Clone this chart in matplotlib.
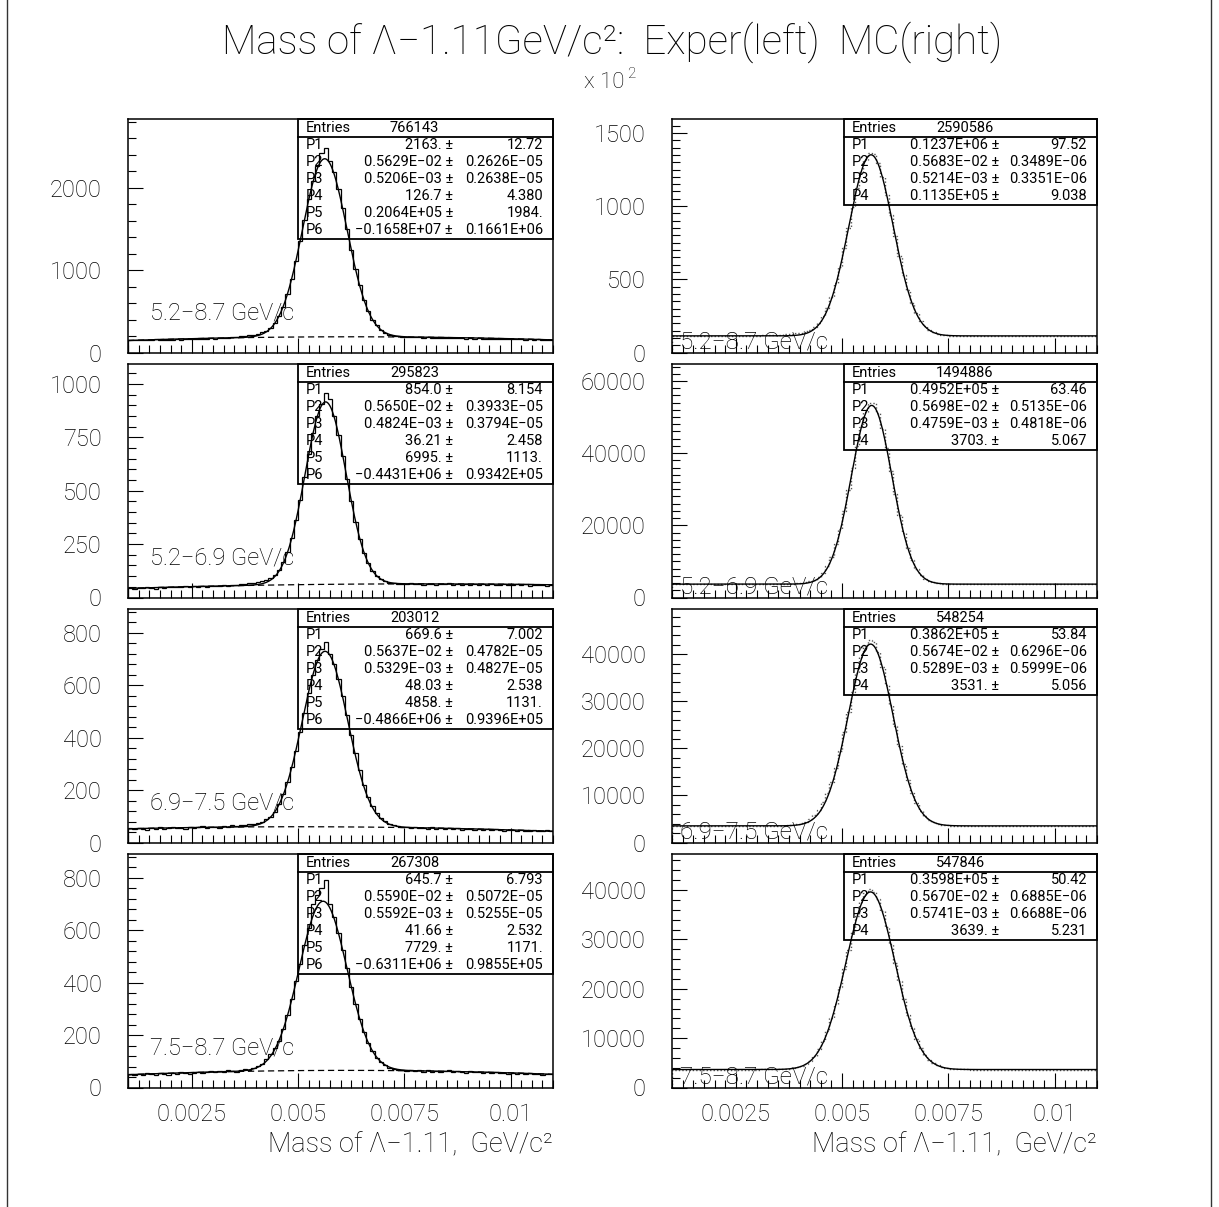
import matplotlib
matplotlib.use("Agg")
import matplotlib.pyplot as plt
from matplotlib.lines import Line2D
from matplotlib.patches import Rectangle
from matplotlib.ticker import MultipleLocator
import numpy as np

plt.rcParams['font.family'] = ['Roboto', 'DejaVu Sans']
plt.rcParams['font.weight'] = 'light'

# ---- data ---------------------------------------------------------------
x_lo, x_hi = 0.001, 0.011
n_bins = 100

ranges = ["5.2−8.7 GeV/c", "5.2−6.9 GeV/c", "6.9−7.5 GeV/c", "7.5−8.7 GeV/c"]
x_ticks = [0.0025, 0.005, 0.0075, 0.01]
x_tick_labels = ["0.0025", "0.005", "0.0075", "0.01"]

# experiment (left column)
exp_entries = ["766143", "295823", "203012", "267308"]
exp_values = [
    ["2163. ±", "0.5629E−02 ±", "0.5206E−03 ±", "126.7 ±", "0.2064E+05 ±", "−0.1658E+07 ±"],
    ["854.0 ±", "0.5650E−02 ±", "0.4824E−03 ±", "36.21 ±", "6995. ±", "−0.4431E+06 ±"],
    ["669.6 ±", "0.5637E−02 ±", "0.5329E−03 ±", "48.03 ±", "4858. ±", "−0.4866E+06 ±"],
    ["645.7 ±", "0.5590E−02 ±", "0.5592E−03 ±", "41.66 ±", "7729. ±", "−0.6311E+06 ±"],
]
exp_errors = [
    ["12.72", "0.2626E−05", "0.2638E−05", "4.380", "1984.", "0.1661E+06"],
    ["8.154", "0.3933E−05", "0.3794E−05", "2.458", "1113.", "0.9342E+05"],
    ["7.002", "0.4782E−05", "0.4827E−05", "2.538", "1131.", "0.9396E+05"],
    ["6.793", "0.5072E−05", "0.5255E−05", "2.532", "1171.", "0.9855E+05"],
]
exp_ymax = [2836, 1093, 891, 891]
exp_major = [1000, 250, 200, 200]
exp_minor = [200, 50, 40, 40]

exp_hist_1 = [150, 146, 153, 148, 156, 151, 158, 152, 149, 157,
              155, 161, 157, 163, 159, 166, 162, 168, 164, 171,
              169, 176, 172, 180, 185, 191, 198, 203, 210, 218,
              228, 245, 262, 300, 356, 440, 556, 708, 892, 1108,
              1350, 1612, 1860, 2080, 2270, 2420, 2480, 2330, 2190, 1990,
              1760, 1500, 1250, 1020, 815, 640, 505, 400, 330, 276,
              240, 216, 204, 196, 190, 185, 188, 183, 186, 180,
              184, 178, 182, 176, 180, 174, 178, 172, 176, 170,
              174, 168, 172, 166, 170, 164, 168, 162, 166, 160,
              164, 158, 162, 156, 160, 154, 158, 152, 156, 150]
exp_hist_2 = [44, 41, 46, 43, 47, 45, 42, 48, 46, 50,
              47, 51, 49, 52, 48, 53, 51, 55, 50, 54,
              56, 53, 57, 55, 59, 58, 62, 64, 66, 70,
              72, 78, 84, 92, 106, 130, 168, 215, 280, 362,
              458, 565, 672, 770, 850, 905, 955, 930, 850, 760,
              662, 555, 450, 355, 272, 208, 160, 124, 100, 85,
              76, 70, 66, 63, 65, 62, 66, 61, 64, 60,
              65, 62, 59, 64, 61, 66, 60, 63, 58, 62,
              60, 64, 59, 62, 57, 63, 60, 58, 62, 59,
              57, 61, 58, 62, 56, 60, 57, 59, 55, 58]
exp_hist_3 = [55, 50, 57, 52, 48, 56, 53, 58, 51, 55,
              59, 54, 57, 52, 60, 55, 58, 62, 56, 59,
              61, 57, 63, 59, 65, 62, 68, 66, 72, 70,
              76, 80, 88, 98, 118, 148, 185, 232, 290, 350,
              420, 495, 570, 640, 695, 740, 765, 720, 680, 625,
              560, 488, 412, 340, 275, 220, 175, 140, 114, 95,
              82, 72, 66, 62, 58, 61, 55, 59, 54, 57,
              53, 58, 52, 56, 51, 55, 50, 54, 49, 53,
              50, 47, 52, 48, 51, 46, 50, 47, 45, 49,
              46, 44, 48, 45, 43, 47, 44, 42, 46, 43]
exp_hist_4 = [50, 46, 53, 48, 55, 51, 47, 54, 52, 49,
              56, 52, 58, 54, 50, 57, 60, 55, 59, 62,
              58, 64, 61, 66, 63, 60, 67, 70, 68, 75,
              82, 90, 108, 128, 150, 178, 225, 278, 338, 405,
              472, 545, 610, 700, 735, 760, 790, 700, 650, 590,
              525, 455, 385, 320, 262, 212, 170, 138, 114, 96,
              85, 76, 70, 66, 68, 63, 67, 62, 65, 60,
              66, 61, 64, 59, 63, 67, 58, 62, 60, 57,
              63, 58, 61, 56, 60, 55, 59, 54, 57, 53,
              56, 52, 55, 51, 54, 50, 53, 49, 52, 50]
exp_hists = [exp_hist_1, exp_hist_2, exp_hist_3, exp_hist_4]

# Monte Carlo (right column)
mc_entries = ["2590586", "1494886", "548254", "547846"]
mc_values = [
    ["0.1237E+06 ±", "0.5683E−02 ±", "0.5214E−03 ±", "0.1135E+05 ±"],
    ["0.4952E+05 ±", "0.5698E−02 ±", "0.4759E−03 ±", "3703. ±"],
    ["0.3862E+05 ±", "0.5674E−02 ±", "0.5289E−03 ±", "3531. ±"],
    ["0.3598E+05 ±", "0.5670E−02 ±", "0.5741E−03 ±", "3639. ±"],
]
mc_errors = [
    ["97.52", "0.3489E−06", "0.3351E−06", "9.038"],
    ["63.46", "0.5135E−06", "0.4818E−06", "5.067"],
    ["53.84", "0.6296E−06", "0.5999E−06", "5.056"],
    ["50.42", "0.6885E−06", "0.6688E−06", "5.231"],
]
mc_scale = [100, 1, 1, 1]          # first panel is drawn in units of 10^2
mc_ymax = [1595, 64700, 49600, 47300]
mc_major = [500, 20000, 10000, 10000]
mc_minor = [50, 2000, 2000, 2000]

mc_hist_1 = [11340, 11360, 11330, 11350, 11340, 11360, 11350, 11330, 11360, 11350,
             11370, 11350, 11380, 11360, 11390, 11400, 11420, 11430, 11460, 11500,
             11560, 11620, 11700, 11800, 11940, 12100, 12300, 12550, 12800, 13150,
             13600, 14400, 15600, 17500, 20400, 24600, 30300, 37800, 47300, 58600,
             71500, 85300, 99300, 112400, 123600, 131800, 136200, 135500, 129500, 119800,
             107600, 93800, 79500, 65700, 53200, 42400, 33600, 26700, 21500, 17900,
             15400, 13800, 12800, 12200, 11800, 11600, 11500, 11400, 11400, 11350,
             11350, 11340, 11360, 11350, 11340, 11350, 11360, 11340, 11350, 11360,
             11340, 11350, 11360, 11340, 11350, 11340, 11360, 11350, 11340, 11350,
             11360, 11340, 11350, 11360, 11340, 11350, 11340, 11360, 11350, 11340]
mc_hist_2 = [3700, 3705, 3698, 3702, 3700, 3706, 3699, 3703, 3701, 3704,
             3700, 3706, 3702, 3705, 3708, 3706, 3710, 3712, 3715, 3718,
             3722, 3726, 3730, 3738, 3745, 3755, 3770, 3790, 3830, 3900,
             3990, 4180, 4480, 4950, 5700, 6900, 8700, 11300, 14700, 18900,
             24000, 29800, 35900, 41900, 47300, 51500, 54000, 53900, 51100, 46700,
             41300, 35100, 28800, 22900, 17800, 13600, 10300, 7950, 6300, 5230,
             4570, 4170, 3950, 3830, 3760, 3730, 3715, 3710, 3705, 3705,
             3702, 3700, 3705, 3699, 3703, 3701, 3704, 3700, 3702, 3698,
             3703, 3700, 3705, 3701, 3699, 3704, 3700, 3702, 3698, 3703,
             3701, 3704, 3699, 3702, 3700, 3705, 3701, 3699, 3703, 3700]
mc_hist_3 = [3530, 3533, 3529, 3532, 3530, 3534, 3531, 3529, 3533, 3530,
             3532, 3534, 3531, 3533, 3535, 3534, 3537, 3539, 3542, 3545,
             3548, 3550, 3553, 3556, 3558, 3560, 3590, 3640, 3720, 3850,
             4060, 4400, 4950, 5800, 7000, 8600, 10500, 12900, 15900, 19400,
             23400, 27700, 32000, 36000, 39400, 41900, 43100, 42600, 40500, 37300,
             33500, 29200, 24800, 20500, 16600, 13300, 10550, 8400, 6780, 5630,
             4840, 4320, 3990, 3790, 3670, 3600, 3565, 3545, 3535, 3532,
             3530, 3533, 3529, 3531, 3534, 3530, 3532, 3529, 3533, 3531,
             3530, 3534, 3531, 3529, 3532, 3530, 3533, 3531, 3529, 3532,
             3530, 3533, 3531, 3529, 3532, 3530, 3534, 3531, 3530, 3532]
mc_hist_4 = [3640, 3642, 3638, 3641, 3639, 3643, 3640, 3638, 3642, 3640,
             3641, 3639, 3642, 3640, 3643, 3641, 3642, 3644, 3643, 3644,
             3645, 3650, 3660, 3670, 3690, 3720, 3760, 3830, 3940, 4110,
             4380, 4830, 5450, 6400, 7700, 9400, 11500, 14000, 16900, 20300,
             24000, 27800, 31400, 34800, 37600, 39400, 40200, 39700, 38200, 35700,
             32600, 29000, 25200, 21500, 17950, 14760, 12020, 9770, 7990, 6640,
             5630, 4930, 4460, 4130, 3935, 3810, 3730, 3690, 3665, 3650,
             3643, 3640, 3642, 3639, 3641, 3640, 3643, 3638, 3641, 3640,
             3642, 3639, 3641, 3640, 3638, 3642, 3640, 3641, 3639, 3642,
             3640, 3638, 3641, 3640, 3642, 3639, 3641, 3640, 3638, 3641]
mc_hists = [mc_hist_1, mc_hist_2, mc_hist_3, mc_hist_4]


def to_num(s):
    return float(s.replace("±", "").replace("−", "-").strip())


# ---- layout -------------------------------------------------------------
W, H = 1219, 1207
fig = plt.figure(figsize=(W / 100, H / 100), dpi=100)

ax_w = 425 / W
ax_h = 233.5 / H
col_left = [128 / W, 672 / W]
row_bottom = [1 - 352.5 / H, 1 - 597.5 / H, 1 - 842.5 / H, 1 - 1087.5 / H]

edges = np.linspace(x_lo, x_hi, n_bins + 1)
xs = np.linspace(x_lo, x_hi, 800)


def style_axes(ax, ymax, major, minor, bottom_row):
    ax.set_xlim(x_lo, x_hi)
    ax.set_ylim(0, ymax)
    ax.xaxis.set_major_locator(plt.FixedLocator(x_ticks))
    ax.xaxis.set_minor_locator(MultipleLocator(0.00025))
    ax.yaxis.set_major_locator(MultipleLocator(major))
    ax.yaxis.set_minor_locator(MultipleLocator(minor))
    ax.tick_params(which='both', direction='in', top=False, right=False, width=0.8)
    ax.tick_params(which='major', length=11, labelsize=17)
    ax.tick_params(which='minor', length=5.5)
    ax.tick_params(axis='y', pad=19)
    ax.tick_params(axis='x', pad=11)
    if bottom_row:
        ax.set_xticklabels(x_tick_labels)
    else:
        ax.tick_params(axis='x', labelbottom=False)
    for sp in ax.spines.values():
        sp.set_linewidth(1.1)


def stat_box(ax, box_left, entries, values, errors):
    px_x = 1 / 425
    px_y = 1 / 233.5
    head = 17.7 * px_y
    row = 17.0 * px_y
    n = len(values)
    bottom = 1 - head - n * row
    ax.add_patch(Rectangle((box_left, bottom), 1 - box_left, 1 - bottom,
                           transform=ax.transAxes, fill=False, lw=1.3,
                           edgecolor='black', zorder=4, clip_on=False))
    ax.add_line(Line2D([box_left, 1], [1 - head, 1 - head], transform=ax.transAxes,
                       color='black', lw=1.3, zorder=4))
    kw = dict(transform=ax.transAxes, va='center', fontsize=10.5,
              fontweight='normal', color='black', zorder=5)
    ax.text(box_left + 8 * px_x, 1 - head / 2, "Entries", ha='left', **kw)
    ax.text(box_left + 92 * px_x, 1 - head / 2, entries, ha='left', **kw)
    for k in range(n):
        yc = 1 - head - (k + 0.5) * row
        ax.text(box_left + 8 * px_x, yc, f"P{k + 1}", ha='left', **kw)
        ax.text(box_left + 155 * px_x, yc, values[k], ha='right', **kw)
        ax.text(1 - 10 * px_x, yc, errors[k], ha='right', **kw)


for r in range(4):
    bottom_row = (r == 3)

    # experiment
    ax = fig.add_axes([col_left[0], row_bottom[r], ax_w, ax_h])
    p = [to_num(v) for v in exp_values[r]]
    ax.stairs(exp_hists[r], edges, color='black', lw=0.9)
    bkg = p[3] + p[4] * xs + p[5] * xs ** 2
    fit = p[0] * np.exp(-0.5 * ((xs - p[1]) / p[2]) ** 2) + bkg
    ax.plot(xs, fit, color='black', lw=1.0)
    ax.plot(xs, bkg, color='black', lw=0.9, dashes=(5, 3))
    style_axes(ax, exp_ymax[r], exp_major[r], exp_minor[r], bottom_row)
    stat_box(ax, 170 / 425, exp_entries[r], exp_values[r], exp_errors[r])
    ax.text(22 / 425, 0.171, ranges[r], transform=ax.transAxes,
            ha='left', va='center', fontsize=17)
    if bottom_row:
        ax.text(1.0, -0.245, "Mass of Λ−1.11,  GeV/c²", transform=ax.transAxes,
                ha='right', va='center', fontsize=19.5)

    # Monte Carlo
    ax = fig.add_axes([col_left[1], row_bottom[r], ax_w, ax_h])
    s = mc_scale[r]
    p = [to_num(v) for v in mc_values[r]]
    ax.stairs(np.array(mc_hists[r]) / s, edges, color='#555555', lw=1.0,
              linestyle=(0, (1, 1.5)))
    fit = (p[0] * np.exp(-0.5 * ((xs - p[1]) / p[2]) ** 2) + p[3]) / s
    ax.plot(xs, fit, color='black', lw=1.0)
    style_axes(ax, mc_ymax[r], mc_major[r], mc_minor[r], bottom_row)
    stat_box(ax, 172 / 425, mc_entries[r], mc_values[r], mc_errors[r])
    ax.text(8 / 425, 0.045, ranges[r], transform=ax.transAxes,
            ha='left', va='center', fontsize=17.5)
    if bottom_row:
        ax.text(1.0, -0.245, "Mass of Λ−1.11,  GeV/c²", transform=ax.transAxes,
                ha='right', va='center', fontsize=19.5)

fig.text(612 / W, 1 - 42 / H, "Mass of Λ−1.11GeV/c²:  Exper(left)  MC(right)",
         ha='center', va='center', fontsize=29)
fig.text(625 / W, 1 - 82 / H, "x 10", ha='right', va='center', fontsize=16)
fig.text(627 / W, 1 - 74 / H, "2", ha='left', va='center', fontsize=11)

# page frame
for xf in (7 / W, 1211 / W):
    fig.add_artist(Line2D([xf, xf], [0, 1], transform=fig.transFigure,
                          color='#333333', lw=1.0))

fig.savefig("out.png", dpi=100)
